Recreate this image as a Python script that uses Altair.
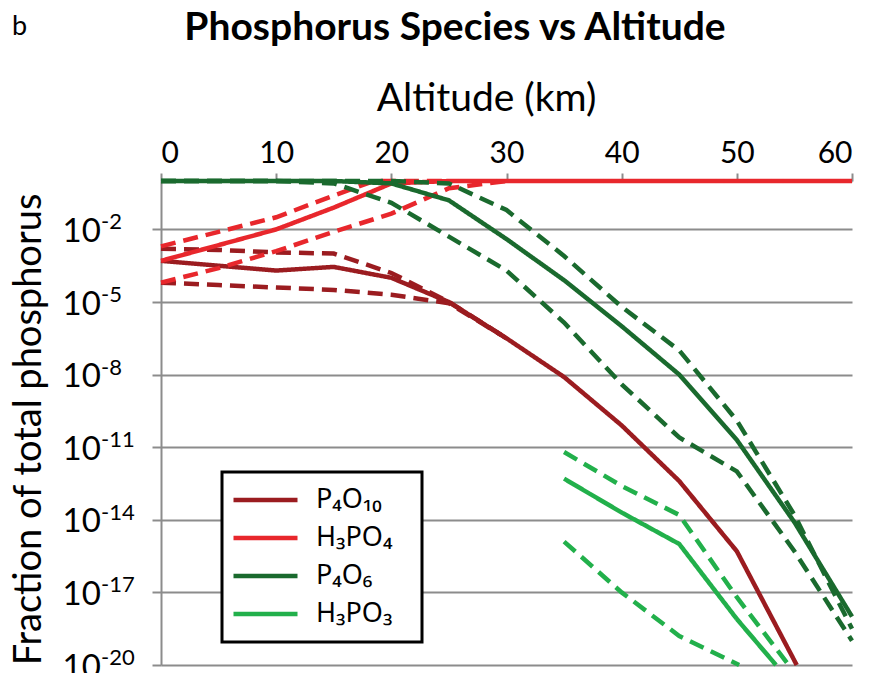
import altair as alt
import pandas as pd

# ---------------- data ----------------
species = ["P₄O₁₀", "H₃PO₄", "P₄O₆", "H₃PO₃"]
colors = ["#9b1c20", "#e8272c", "#1a6a2e", "#22b04b"]

# altitudes (km) and log10(fraction of total phosphorus)
p4o10_alt = [0, 5, 10, 15, 20, 25, 30, 35, 40, 45, 50, 55.2]
p4o10_mid = [-3.3, -3.5, -3.7, -3.55, -4.0, -5.0, -6.5, -8.1, -10.1, -12.4, -15.3, -20.0]
p4o10_band_alt = [0, 5, 10, 15, 20, 25, 30]
p4o10_upper = [-2.8, -2.85, -2.95, -3.0, -3.8, -5.0, -6.5]
p4o10_lower = [-4.2, -4.3, -4.4, -4.5, -4.7, -5.05, -6.5]

h3po4_alt = [0, 5, 10, 15, 20, 25, 30, 35, 40, 45, 50, 55, 60]
h3po4_mid = [-3.3, -2.65, -2.0, -1.1, -0.1, 0, 0, 0, 0, 0, 0, 0, 0]
h3po4_upper_alt = [0, 5, 10, 15, 18.5, 25]
h3po4_upper = [-2.7, -2.1, -1.5, -0.6, 0, 0]
h3po4_lower_alt = [0, 5, 10, 15, 20, 25, 30]
h3po4_lower = [-4.2, -3.6, -2.9, -2.1, -1.35, -0.3, 0]

p4o6_alt = [0, 5, 10, 15, 20, 25, 30, 35, 40, 45, 50, 55, 60]
p4o6_mid = [0, 0, 0, 0, -0.1, -0.8, -2.4, -4.1, -6.0, -8.0, -10.7, -14.1, -18.0]
p4o6_upper = [0, 0, 0, 0, 0, -0.1, -1.2, -3.1, -5.2, -7.0, -9.9, -13.8, -18.5]
p4o6_lower = [0, 0, 0, -0.1, -0.9, -2.3, -3.7, -5.85, -8.4, -10.6, -12.0, -15.3, -19.0]

h3po3_mid_alt = [35, 40, 45, 50, 53.4]
h3po3_mid = [-12.3, -13.7, -15.0, -18.1, -20.0]
h3po3_upper_alt = [35, 40, 45, 50, 54.5]
h3po3_upper = [-11.2, -12.6, -13.8, -17.2, -20.0]
h3po3_lower_alt = [35, 40, 45, 50.2]
h3po3_lower = [-14.9, -17.0, -18.8, -20.0]

x_ticks = [0, 10, 20, 30, 40, 50, 60]
y_tick_exps = [-2, -5, -8, -11, -14, -17, -20]
y_tick_sup = ["-2", "-5", "-8", "-11", "-14", "-17", "-20"]

title_text = "Phosphorus Species vs Altitude"
panel_label = "b"

# ---------------- build tables ----------------
series = [
    (species[0], "mid", p4o10_alt, p4o10_mid),
    (species[0], "upper", p4o10_band_alt, p4o10_upper),
    (species[0], "lower", p4o10_band_alt, p4o10_lower),
    (species[1], "mid", h3po4_alt, h3po4_mid),
    (species[1], "upper", h3po4_upper_alt, h3po4_upper),
    (species[1], "lower", h3po4_lower_alt, h3po4_lower),
    (species[2], "mid", p4o6_alt, p4o6_mid),
    (species[2], "upper", p4o6_alt, p4o6_upper),
    (species[2], "lower", p4o6_alt, p4o6_lower),
    (species[3], "mid", h3po3_mid_alt, h3po3_mid),
    (species[3], "upper", h3po3_upper_alt, h3po3_upper),
    (species[3], "lower", h3po3_lower_alt, h3po3_lower),
]
rows = []
for sp, band, alts, exps in series:
    for a, e in zip(alts, exps):
        rows.append({"species": sp, "band": band, "series": sp + "-" + band,
                     "alt": a, "frac": 10.0 ** e})
df = pd.DataFrame(rows)

exp_df = pd.DataFrame({"frac": [10.0 ** e for e in y_tick_exps], "sup": y_tick_sup})

FONT = "Lato, 'Noto Sans', sans-serif"
GRAY = "#8c8c8c"

lines = alt.Chart(df).mark_line(strokeWidth=4.5, strokeCap="butt").encode(
    x=alt.X("alt:Q",
            scale=alt.Scale(domain=[0, 60], nice=False, zero=False),
            axis=alt.Axis(orient="top", values=x_ticks, title="Altitude (km)",
                          grid=False, tickSize=8, tickColor=GRAY, tickWidth=2,
                          domainColor=GRAY, domainWidth=2,
                          labelFont=FONT, labelFontSize=30, labelColor="black",
                          labelPadding=11, labelBaseline="alphabetic",
                          titleFont=FONT, titleFontSize=39, titleFontWeight="normal",
                          titleColor="black", titleX=325, titleY=-71,
                          titleBaseline="alphabetic", titleAlign="center")),
    y=alt.Y("frac:Q",
            scale=alt.Scale(type="log", domain=[1e-20, 1], nice=False),
            axis=alt.Axis(values=[10.0 ** e for e in y_tick_exps], labelExpr="'10'",
                          title="Fraction of total phosphorus",
                          grid=True, gridColor=GRAY, gridWidth=2,
                          tickSize=9, tickColor=GRAY, tickWidth=2,
                          domainColor=GRAY, domainWidth=2,
                          labelFont=FONT, labelFontSize=33, labelColor="black",
                          labelPadding=90, labelAlign="left",
                          labelBaseline="alphabetic", labelOffset=12,
                          titleFont=FONT, titleFontSize=38, titleFontWeight="normal",
                          titleColor="black", titleAngle=-90, titleX=-121, titleY=248,
                          titleBaseline="alphabetic", titleAlign="center")),
    color=alt.Color("species:N", scale=alt.Scale(domain=species, range=colors),
                    legend=alt.Legend(title=None, orient="none", legendX=61, legendY=291,
                                      fillColor="white", strokeColor="black",
                                      padding=9, symbolType="stroke",
                                      symbolStrokeWidth=4.5, symbolSize=4096,
                                      clipHeight=38, rowPadding=0,
                                      labelFont="'Noto Sans', 'DejaVu Sans', sans-serif",
                                      labelFontSize=27, labelColor="black",
                                      labelOffset=16,
                                      labelExpr="datum.label + '\u2800'")),
    strokeDash=alt.StrokeDash("band:N",
                              scale=alt.Scale(domain=["mid", "upper", "lower"],
                                              range=[[1, 0], [15, 8], [15, 8]]),
                              legend=None),
    detail="series:N",
)

sups = alt.Chart(exp_df).mark_text(
    font=FONT, fontSize=22, align="left", baseline="alphabetic", color="black", dy=0
).encode(text="sup:N", y=alt.Y("frac:Q"), x=alt.value(-60))

btext = alt.Chart(pd.DataFrame({"t": [panel_label]})).mark_text(
    font=FONT, fontSize=27, align="left", baseline="alphabetic", color="black"
).encode(text="t:N", x=alt.value(-149), y=alt.value(-146))

ttext = alt.Chart(pd.DataFrame({"t": [title_text]})).mark_text(
    font=FONT, fontSize=39, fontWeight="bold", align="center",
    baseline="alphabetic", color="black"
).encode(text="t:N", x=alt.value(294), y=alt.value(-141))

chart = alt.layer(lines, sups, btext, ttext).properties(
    width=691, height=484,
    autosize=alt.AutoSizeParams(type="none"),
    padding={"left": 153, "top": 173, "right": 8, "bottom": 8},
).configure_view(stroke=None).configure_legend(strokeWidth=3)

chart.save("out.html", embed_options={"renderer": "svg", "actions": False})
